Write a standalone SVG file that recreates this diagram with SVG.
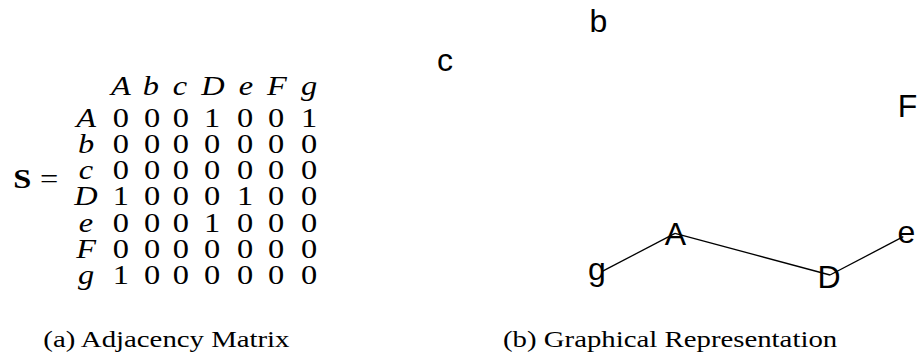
<svg xmlns="http://www.w3.org/2000/svg" width="917" height="358" viewBox="0 0 917 358">
<style>
.m{font-family:"Liberation Serif","Times New Roman",serif;font-size:27px;fill:#000;text-anchor:middle}
.i{font-style:italic}
.cap{font-family:"Liberation Serif","Times New Roman",serif;font-size:24px;fill:#000}
.n{font-family:"Liberation Sans",Arial,sans-serif;font-size:32px;fill:#000;text-anchor:middle}
.e{stroke:#000;stroke-width:1.3;fill:none}
</style>
<rect width="917" height="358" fill="#fff"/>
<g id="matrix" transform="matrix(1.2 0 0 1 0 0)">
<text x="11.1" y="188" class="m" style="text-anchor:start;font-weight:bold">S</text>
<text x="33.3" y="188" class="m" style="text-anchor:start">=</text>
<g class="m i">
<text x="100.8" y="95">A</text><text x="125.8" y="95">b</text><text x="150" y="95">c</text><text x="177.5" y="95">D</text><text x="205" y="95">e</text><text x="230.8" y="95">F</text><text x="257.5" y="95">g</text>
<text x="71.7" y="127">A</text><text x="71.7" y="153.2">b</text><text x="71.7" y="179.3">c</text><text x="71.7" y="205.5">D</text><text x="71.7" y="231.7">e</text><text x="71.7" y="257.8">F</text><text x="71.7" y="284">g</text>
</g>
<g class="m">
<text y="127"><tspan x="100.8">0</tspan><tspan x="126.7">0</tspan><tspan x="150.8">0</tspan><tspan x="176.7">1</tspan><tspan x="204.2">0</tspan><tspan x="230">0</tspan><tspan x="257.5">1</tspan></text>
<text y="153.2"><tspan x="100.8">0</tspan><tspan x="126.7">0</tspan><tspan x="150.8">0</tspan><tspan x="176.7">0</tspan><tspan x="204.2">0</tspan><tspan x="230">0</tspan><tspan x="257.5">0</tspan></text>
<text y="179.3"><tspan x="100.8">0</tspan><tspan x="126.7">0</tspan><tspan x="150.8">0</tspan><tspan x="176.7">0</tspan><tspan x="204.2">0</tspan><tspan x="230">0</tspan><tspan x="257.5">0</tspan></text>
<text y="205.5"><tspan x="100.8">1</tspan><tspan x="126.7">0</tspan><tspan x="150.8">0</tspan><tspan x="176.7">0</tspan><tspan x="204.2">1</tspan><tspan x="230">0</tspan><tspan x="257.5">0</tspan></text>
<text y="231.7"><tspan x="100.8">0</tspan><tspan x="126.7">0</tspan><tspan x="150.8">0</tspan><tspan x="176.7">1</tspan><tspan x="204.2">0</tspan><tspan x="230">0</tspan><tspan x="257.5">0</tspan></text>
<text y="257.8"><tspan x="100.8">0</tspan><tspan x="126.7">0</tspan><tspan x="150.8">0</tspan><tspan x="176.7">0</tspan><tspan x="204.2">0</tspan><tspan x="230">0</tspan><tspan x="257.5">0</tspan></text>
<text y="284"><tspan x="100.8">1</tspan><tspan x="126.7">0</tspan><tspan x="150.8">0</tspan><tspan x="176.7">0</tspan><tspan x="204.2">0</tspan><tspan x="230">0</tspan><tspan x="257.5">0</tspan></text>
</g>
<text x="36.1" y="347" class="cap">(a) Adjacency Matrix</text>
<text x="419.2" y="347" class="cap">(b) Graphical Representation</text>
</g>
<g id="edges">
<line class="e" x1="601.7" y1="271.7" x2="675" y2="233.3"/>
<line class="e" x1="675" y1="233.3" x2="830" y2="275"/>
<line class="e" x1="830" y1="275" x2="903.3" y2="236.7"/>
</g>
<g id="node-A"><text class="n" x="675.5" y="245">A</text></g>
<g id="node-b"><text class="n" x="598.5" y="32">b</text></g>
<g id="node-c"><text class="n" x="445" y="71">c</text></g>
<g id="node-D"><text class="n" x="829" y="288">D</text></g>
<g id="node-e"><text class="n" x="906.5" y="243">e</text></g>
<g id="node-F"><text class="n" x="907.5" y="117">F</text></g>
<g id="node-g"><text class="n" x="597" y="280">g</text></g>
</svg>
